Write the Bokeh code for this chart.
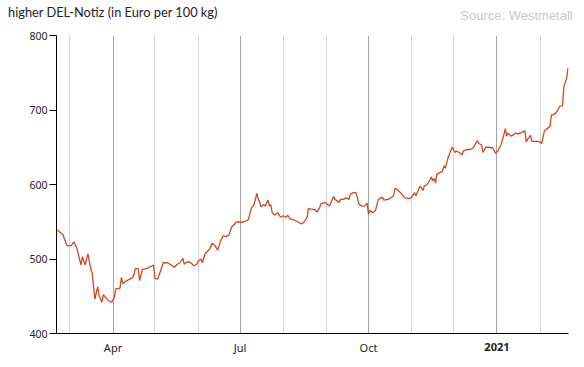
from datetime import datetime
from bokeh.plotting import figure
from bokeh.models import Range1d, FixedTicker, Grid, DatetimeAxis
from bokeh.embed import file_html
from bokeh.resources import INLINE

# ---- data ----
dates = [
    "2020-02-21", "2020-02-25", "2020-02-28", "2020-03-02", "2020-03-04", "2020-03-06",
    "2020-03-09", "2020-03-10", "2020-03-12", "2020-03-14", "2020-03-16", "2020-03-17",
    "2020-03-18", "2020-03-19", "2020-03-21", "2020-03-22", "2020-03-24", "2020-03-25",
    "2020-03-27", "2020-03-28", "2020-03-31", "2020-04-02", "2020-04-03", "2020-04-06",
    "2020-04-07", "2020-04-08", "2020-04-11", "2020-04-15", "2020-04-16", "2020-04-17",
    "2020-04-19", "2020-04-20", "2020-04-22", "2020-04-25", "2020-04-30", "2020-05-01",
    "2020-05-03", "2020-05-05", "2020-05-07", "2020-05-10", "2020-05-12", "2020-05-15",
    "2020-05-17", "2020-05-19", "2020-05-21", "2020-05-22", "2020-05-24", "2020-05-26",
    "2020-05-29", "2020-05-31", "2020-06-01", "2020-06-03", "2020-06-04", "2020-06-06",
    "2020-06-09", "2020-06-11", "2020-06-13", "2020-06-15", "2020-06-17", "2020-06-19",
    "2020-06-21", "2020-06-23", "2020-06-25", "2020-06-28", "2020-06-30", "2020-07-01",
    "2020-07-04", "2020-07-07", "2020-07-09", "2020-07-11", "2020-07-13", "2020-07-14",
    "2020-07-15", "2020-07-16", "2020-07-18", "2020-07-19", "2020-07-21", "2020-07-22",
    "2020-07-23", "2020-07-24", "2020-07-26", "2020-07-28", "2020-07-30", "2020-08-01",
    "2020-08-03", "2020-08-04", "2020-08-06", "2020-08-08", "2020-08-10", "2020-08-14",
    "2020-08-16", "2020-08-18", "2020-08-19", "2020-08-21", "2020-08-24", "2020-08-25",
    "2020-08-27", "2020-08-28", "2020-08-31", "2020-09-01", "2020-09-03", "2020-09-06",
    "2020-09-07", "2020-09-10", "2020-09-11", "2020-09-13", "2020-09-15", "2020-09-17",
    "2020-09-18", "2020-09-20", "2020-09-22", "2020-09-23", "2020-09-24", "2020-09-26",
    "2020-09-28", "2020-09-30", "2020-10-01", "2020-10-02", "2020-10-04", "2020-10-06",
    "2020-10-08", "2020-10-11", "2020-10-12", "2020-10-15", "2020-10-17", "2020-10-19",
    "2020-10-20", "2020-10-21", "2020-10-24", "2020-10-27", "2020-10-30", "2020-11-01",
    "2020-11-02", "2020-11-03", "2020-11-04", "2020-11-06", "2020-11-07", "2020-11-09",
    "2020-11-10", "2020-11-12", "2020-11-14", "2020-11-15", "2020-11-16", "2020-11-17",
    "2020-11-18", "2020-11-19", "2020-11-21", "2020-11-23", "2020-11-24", "2020-11-25",
    "2020-11-27", "2020-11-29", "2020-11-30", "2020-12-02", "2020-12-03", "2020-12-05",
    "2020-12-07", "2020-12-08", "2020-12-11", "2020-12-13", "2020-12-15", "2020-12-18",
    "2020-12-19", "2020-12-21", "2020-12-22", "2020-12-24", "2020-12-26", "2020-12-29",
    "2020-12-31", "2021-01-02", "2021-01-04", "2021-01-06", "2021-01-07", "2021-01-08",
    "2021-01-09", "2021-01-11", "2021-01-13", "2021-01-14", "2021-01-16", "2021-01-19",
    "2021-01-21", "2021-01-22", "2021-01-23", "2021-01-25", "2021-01-26", "2021-01-28",
    "2021-01-31", "2021-02-02", "2021-02-03", "2021-02-04", "2021-02-06", "2021-02-08",
    "2021-02-09", "2021-02-11", "2021-02-13", "2021-02-15", "2021-02-17", "2021-02-18",
    "2021-02-20", "2021-02-21",
]
values = [
    539, 533, 518, 518, 523, 515,
    492, 503, 492, 507, 487, 482,
    464, 446, 463, 451, 442, 452,
    448, 445, 442, 449, 460, 461,
    475, 467, 471, 475, 479, 487,
    487, 471, 486, 487, 492, 474,
    473, 484, 495, 495, 493, 489,
    493, 495, 501, 493, 496, 496,
    491, 493, 497, 500, 495, 507,
    513, 521, 518, 512, 524, 531,
    530, 532, 543, 549, 550, 549,
    550, 553, 568, 573, 588, 580,
    577, 570, 573, 571, 579, 571,
    573, 562, 559, 562, 556, 558,
    556, 559, 554, 553, 551, 547,
    550, 556, 568, 567, 566, 563,
    569, 574, 576, 574, 571, 584,
    580, 576, 580, 580, 582, 580,
    587, 589, 589, 583, 574, 571,
    571, 575, 560, 565, 562, 565,
    580, 583, 579, 580, 582, 585,
    595, 594, 589, 582, 581, 583,
    586, 589, 585, 594, 598, 592,
    598, 600, 606, 610, 605, 608,
    602, 614, 616, 618, 625, 622,
    636, 646, 650, 643, 645, 643,
    640, 645, 647, 647, 649, 659,
    655, 653, 643, 650, 650, 649,
    642, 646, 654, 667, 675, 665,
    669, 665, 667, 669, 668, 670,
    672, 657, 661, 666, 658, 658,
    658, 655, 663, 672, 675, 678,
    693, 694, 698, 705, 706, 732,
    743, 757,
]
y_ticks = [400, 500, 600, 700, 800]
quarter_dates = ["2020-04-01", "2020-07-01", "2020-10-01", "2021-01-01"]
quarter_labels = ["Apr", "Jul", "Oct", "2021"]
month_dates = ["2020-03-01", "2020-05-01", "2020-06-01", "2020-08-01", "2020-09-01",
               "2020-11-01", "2020-12-01", "2021-02-01"]
title_text = "higher DEL-Notiz (in Euro per 100 kg)"
source_text = "Source: Westmetall"

EPOCH = datetime(1970, 1, 1)


def ms(s):
    return (datetime.fromisoformat(s) - EPOCH).total_seconds() * 1000.0


xs = [datetime.fromisoformat(d) for d in dates]
x_start = ms("2020-02-20") + 12 * 3600 * 1000
x_end = ms("2021-02-21") + 6 * 3600 * 1000

W, H = 584, 367
BL, BR, BT, BB = 56, 16, 34, 34
frame_w = W - BL - BR


def px_to_x(px):
    # horizontal pixel offset from the frame's left edge -> x value (for text placement)
    return float(round(x_start + px / frame_w * (x_end - x_start)))


p = figure(width=W, height=H, x_axis_type="datetime",
           output_backend="svg", toolbar_location=None,
           x_range=Range1d(x_start, x_end), y_range=Range1d(y_ticks[0], y_ticks[-1]),
           min_border_left=BL, min_border_right=BR, min_border_top=BT, min_border_bottom=BB)
p.title_location = None
p.outline_line_color = None
p.background_fill_color = "white"
p.border_fill_color = "white"

# grids
p.ygrid.visible = False
p.xgrid.visible = False
month_grid = Grid(dimension=0, ticker=FixedTicker(ticks=[ms(d) for d in month_dates]),
                  grid_line_color="#d4d4d4", grid_line_width=1)
quarter_grid = Grid(dimension=0, ticker=FixedTicker(ticks=[ms(d) for d in quarter_dates]),
                    grid_line_color="#a6a6a6", grid_line_width=1)
p.add_layout(month_grid)
p.add_layout(quarter_grid)

# line
p.line(xs, values, line_color="#d2461f", line_width=1.3)

# y axis
p.yaxis.ticker = FixedTicker(ticks=y_ticks)
p.yaxis.axis_line_color = "black"
p.yaxis.major_tick_out = 7
p.yaxis.major_tick_in = 0
p.yaxis.minor_tick_line_color = None
p.yaxis.major_tick_line_color = "black"
p.yaxis.major_label_standoff = 2
p.yaxis.major_label_text_font = "Noto Sans"
p.yaxis.major_label_text_font_size = "10.5px"
p.yaxis.major_label_text_color = "#222222"


def text_axis(ticks, labels, standoff, font, size, color, style="normal"):
    ax = DatetimeAxis(ticker=FixedTicker(ticks=ticks))
    ax.major_label_overrides = dict(zip(ticks, labels))
    ax.axis_line_color = None
    ax.major_tick_line_color = None
    ax.minor_tick_line_color = None
    ax.major_tick_out = 0
    ax.major_tick_in = 0
    ax.minor_tick_out = 0
    ax.minor_tick_in = 0
    ax.major_label_standoff = standoff
    ax.major_label_text_font = font
    ax.major_label_text_font_size = size
    ax.major_label_text_font_style = style
    ax.major_label_text_color = color
    return ax


# x axis (Apr, Jul, Oct) and a second row-sharing axis for the bold year
xaxis = p.xaxis[0]
xaxis.ticker = FixedTicker(ticks=[ms(d) for d in quarter_dates[:-1]])
xaxis.major_label_overrides = {ms(d): lab for d, lab in zip(quarter_dates[:-1], quarter_labels[:-1])}
xaxis.axis_line_color = "black"
xaxis.major_tick_out = 0
xaxis.major_tick_in = 0
xaxis.minor_tick_out = 0
xaxis.minor_tick_in = 0
xaxis.minor_tick_line_color = None
xaxis.major_label_standoff = 6
xaxis.major_label_text_font = "Noto Sans"
xaxis.major_label_text_font_size = "11px"
xaxis.major_label_text_color = "#222222"

year_axis = text_axis([ms(quarter_dates[-1])], [quarter_labels[-1]], -15,
                      "Noto Sans", "11px", "#222222", style="bold")
p.add_layout(year_axis, "below")

# source (inner row above the frame) and title (outer row pulled onto the same line)
src_axis = text_axis([px_to_x(frame_w + 5 - 57)], [source_text], 13,
                     "Liberation Sans", "13px", "#c8c8c8")
ttl_axis = text_axis([px_to_x(7 - BL + 105.5)], [title_text], -15,
                     "Lato", "12.8px", "#222222")
p.add_layout(src_axis, "above")
p.add_layout(ttl_axis, "above")

open("out.html", "w").write(file_html(p, INLINE))
